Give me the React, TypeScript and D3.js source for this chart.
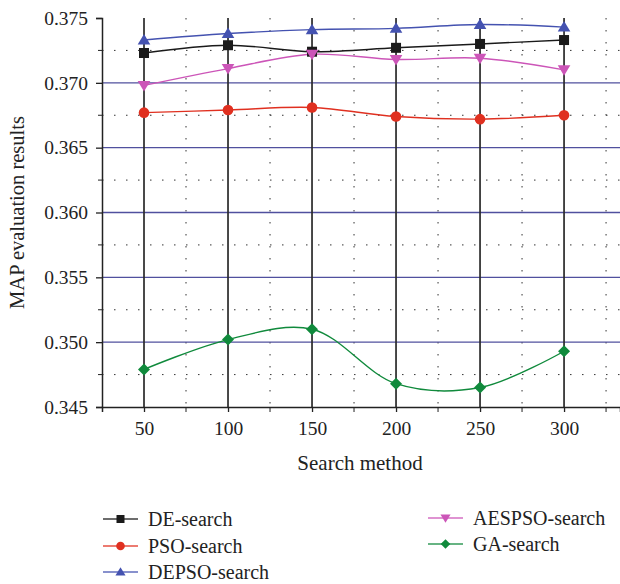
import React, { useEffect, useRef } from "react";
import * as d3 from "d3";

const xValues = [50, 100, 150, 200, 250, 300];
const deSearch = [0.3723, 0.3729, 0.3724, 0.3727, 0.373, 0.3733];
const psoSearch = [0.3677, 0.3679, 0.3681, 0.3674, 0.3672, 0.3675];
const depsoSearch = [0.3733, 0.3738, 0.3741, 0.3742, 0.3745, 0.3743];
const aespsoSearch = [0.3698, 0.3711, 0.3722, 0.3718, 0.3719, 0.371];
const gaSearch = [0.3479, 0.3502, 0.351, 0.3468, 0.3465, 0.3493];
const yTicks = [0.345, 0.35, 0.355, 0.36, 0.365, 0.37, 0.375];

const series = [
  { name: "DE-search", values: deSearch, color: "#1a1a1a", marker: "square" },
  { name: "PSO-search", values: psoSearch, color: "#e03020", marker: "circle" },
  { name: "DEPSO-search", values: depsoSearch, color: "#4452b0", marker: "triangle" },
  { name: "AESPSO-search", values: aespsoSearch, color: "#cc55b8", marker: "down" },
  { name: "GA-search", values: gaSearch, color: "#108a3c", marker: "diamond" },
];

const FONT = "'Liberation Serif', 'DejaVu Serif', serif";

function drawMarker(g, kind, x, y, color, k = 1) {
  const s = 5 * k;
  if (kind === "square") {
    g.append("rect").attr("x", x - s).attr("y", y - s).attr("width", 2 * s).attr("height", 2 * s).attr("fill", color);
  } else if (kind === "circle") {
    g.append("circle").attr("cx", x).attr("cy", y).attr("r", s + 0.3).attr("fill", color);
  } else if (kind === "triangle") {
    g.append("path").attr("d", `M${x},${y - 6 * k}L${x + 6.3 * k},${y + 4.5 * k}L${x - 6.3 * k},${y + 4.5 * k}Z`).attr("fill", color);
  } else if (kind === "down") {
    g.append("path").attr("d", `M${x},${y + 6 * k}L${x + 6.3 * k},${y - 4.5 * k}L${x - 6.3 * k},${y - 4.5 * k}Z`).attr("fill", color);
  } else {
    g.append("path").attr("d", `M${x},${y - 6 * k}L${x + 6 * k},${y}L${x},${y + 6 * k}L${x - 6 * k},${y}Z`).attr("fill", color);
  }
}

export default function App() {
  const svgRef = useRef(null);
  const width = 620;
  const height = 584;

  useEffect(() => {
    const svg = d3.select(svgRef.current);
    svg.selectAll("*").remove();

    const left = 102;
    const x = d3.scaleLinear().domain([25, 333.3]).range([left, 620]);
    const y = d3.scaleLinear().domain([0.345, 0.375]).range([407, 18]);

    const grid = svg.append("g");
    // dotted minor gridlines
    d3.range(0.3475, 0.375, 0.005).forEach((v) => {
      grid.append("line").attr("x1", left).attr("x2", 620).attr("y1", y(v)).attr("y2", y(v))
        .attr("stroke", "#333").attr("stroke-width", 1).attr("stroke-dasharray", "1.5,10.5");
    });
    d3.range(75, 340, 50).forEach((v) => {
      grid.append("line").attr("x1", x(v)).attr("x2", x(v)).attr("y1", y(0.375)).attr("y2", y(0.345))
        .attr("stroke", "#333").attr("stroke-width", 1).attr("stroke-dasharray", "1.5,10.5");
    });
    // major horizontal gridlines
    yTicks.filter((v) => v > 0.3451 && v < 0.3749).forEach((v) => {
      grid.append("line").attr("x1", left).attr("x2", 620).attr("y1", y(v)).attr("y2", y(v))
        .attr("stroke", "#50509e").attr("stroke-width", 1.4);
    });
    // major vertical gridlines
    xValues.forEach((v) => {
      grid.append("line").attr("x1", x(v)).attr("x2", x(v)).attr("y1", y(0.375)).attr("y2", y(0.345))
        .attr("stroke", "#2a2a2a").attr("stroke-width", 1.7);
    });

    // axes
    const yAxis = svg.append("g").attr("transform", `translate(${left},0)`)
      .call(d3.axisLeft(y).tickValues(yTicks).tickFormat(d3.format(".3f")).tickSize(6).tickPadding(8));
    yAxis.selectAll(".tick line").attr("stroke", "#222").attr("stroke-width", 1.3);
    d3.range(0.3475, 0.375, 0.005).forEach((v) => {
      yAxis.append("line").attr("x1", -4).attr("x2", 0).attr("y1", y(v)).attr("y2", y(v)).attr("stroke", "#222");
    });

    const xAxis = svg.append("g").attr("transform", `translate(0,${y(0.345)})`)
      .call(d3.axisBottom(x).tickValues(xValues).tickSize(5).tickPadding(9));
    xAxis.selectAll(".tick line").attr("stroke", "#222").attr("stroke-width", 1.3);
    d3.range(75, 340, 50).forEach((v) => {
      xAxis.append("line").attr("x1", x(v)).attr("x2", x(v)).attr("y1", 0).attr("y2", 5).attr("stroke", "#222");
    });

    [yAxis, xAxis].forEach((a) => {
      a.select(".domain").attr("stroke", "#222").attr("stroke-width", 1.5);
      a.selectAll("text").attr("font-family", FONT).attr("font-size", 19.5).attr("fill", "#222");
    });

    // series
    const line = d3.line<number>()
      .x((d, i) => x(xValues[i]))
      .y((d) => y(d))
      .curve(d3.curveCatmullRom.alpha(0.5));

    series.forEach((s) => {
      svg.append("path").attr("d", line(s.values)).attr("fill", "none")
        .attr("stroke", s.color).attr("stroke-width", 1.4);
    });
    series.forEach((s) => {
      const g = svg.append("g");
      s.values.forEach((v, i) => drawMarker(g, s.marker, x(xValues[i]), y(v), s.color));
    });

    // axis titles
    svg.append("text").attr("transform", `translate(24,${(y(0.375) + y(0.345)) / 2}) rotate(-90)`)
      .attr("text-anchor", "middle").attr("font-family", FONT).attr("font-size", 20.5).attr("fill", "#222")
      .text("MAP evaluation results");
    svg.append("text").attr("x", 360).attr("y", 470)
      .attr("text-anchor", "middle").attr("font-family", FONT).attr("font-size", 21).attr("fill", "#222")
      .text("Search method");

    // legend
    const legendPos = [
      [103, 519], [103, 546], [103, 572], [428, 518], [428, 544],
    ];
    series.forEach((s, i) => {
      const [lx, ly] = legendPos[i];
      const g = svg.append("g");
      g.append("line").attr("x1", lx).attr("x2", lx + 35).attr("y1", ly).attr("y2", ly)
        .attr("stroke", s.color).attr("stroke-width", 1.4).attr("stroke-opacity", 0.85);
      drawMarker(g, s.marker, lx + 17.5, ly, s.color, 0.8);
      g.append("text").attr("x", lx + 45).attr("y", ly + 6.5).attr("font-family", FONT)
        .attr("font-size", 20).attr("fill", "#222").text(s.name);
    });
  }, []);

  return <svg ref={svgRef} width={width} height={height} style={{ position: "absolute", left: 0, top: 0 }} />;
}
